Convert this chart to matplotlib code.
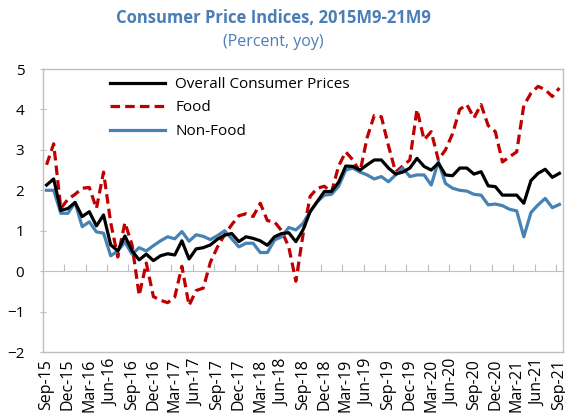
import matplotlib
matplotlib.use("Agg")
import matplotlib.pyplot as plt
import numpy as np

plt.rcParams['font.family'] = ['Open Sans', 'DejaVu Sans']

# Monthly data, Sep-2015 .. Sep-2021 (73 months), percent yoy
overall = [2.13, 2.28, 1.5, 1.55, 1.7, 1.35, 1.47, 1.12, 1.39, 0.65,
           0.5, 0.87, 0.5, 0.28, 0.42, 0.26, 0.38, 0.43, 0.4, 0.75,
           0.3, 0.55, 0.58, 0.65, 0.79, 0.89, 0.93, 0.73, 0.85, 0.81,
           0.75, 0.64, 0.85, 0.93, 0.95, 0.73, 1.02, 1.47, 1.72, 1.97,
           1.97, 2.2, 2.6, 2.59, 2.5, 2.63, 2.75, 2.75, 2.55, 2.4,
           2.45, 2.55, 2.79, 2.59, 2.5, 2.67, 2.38, 2.36, 2.55, 2.55,
           2.4, 2.46, 2.11, 2.09, 1.88, 1.88, 1.88, 1.68, 2.24, 2.42,
           2.52, 2.32, 2.42]
food = [2.63, 3.15, 1.55, 1.78, 1.9, 2.05, 2.07, 1.55, 2.45, 1.2,
        0.35, 1.2, 0.65, -0.6, 0.2, -0.63, -0.72, -0.78, -0.64, 0.12,
        -0.85, -0.48, -0.42, 0.22, 0.6, 0.9, 1.15, 1.37, 1.42, 1.35,
        1.68, 1.25, 1.22, 1.0, 0.6, -0.25, 0.9, 1.85, 2.05, 2.1,
        1.95, 2.6, 2.95, 2.75, 2.45, 3.3, 3.85, 3.82, 3.1, 2.45,
        2.6, 2.75, 4.0, 3.25, 3.45, 2.75, 3.0, 3.4, 4.0, 4.12,
        3.79, 4.12, 3.6, 3.45, 2.7, 2.83, 2.95, 4.1, 4.4, 4.57,
        4.49, 4.32, 4.53]
nonfood = [2.0, 2.0, 1.43, 1.43, 1.7, 1.1, 1.22, 0.97, 0.94, 0.38,
           0.5, 0.72, 0.42, 0.58, 0.5, 0.63, 0.75, 0.85, 0.8, 0.98,
           0.74, 0.9, 0.86, 0.78, 0.88, 1.0, 0.8, 0.6, 0.69, 0.69,
           0.46, 0.46, 0.77, 0.85, 1.08, 1.02, 1.18, 1.47, 1.72, 1.88,
           1.9, 2.1, 2.5, 2.55, 2.45, 2.38, 2.28, 2.34, 2.21, 2.38,
           2.55, 2.34, 2.38, 2.38, 2.13, 2.71, 2.17, 2.05, 2.0, 1.98,
           1.9, 1.88, 1.64, 1.66, 1.62, 1.53, 1.49, 0.85, 1.45, 1.64,
           1.8, 1.57, 1.65]

tick_labels = ["Sep-15", "Dec-15", "Mar-16", "Jun-16", "Sep-16", "Dec-16",
               "Mar-17", "Jun-17", "Sep-17", "Dec-17", "Mar-18", "Jun-18",
               "Sep-18", "Dec-18", "Mar-19", "Jun-19", "Sep-19", "Dec-19",
               "Mar-20", "Jun-20", "Sep-20", "Dec-20", "Mar-21", "Jun-21",
               "Sep-21"]
series_names = ["Overall Consumer Prices", "Food", "Non-Food"]

title_color = '#4a7eb5'
grey = '#bfbfbf'

fig = plt.figure(figsize=(5.65, 4.2), dpi=100)
ax = fig.add_axes([43/565, 1-352/420, 520/565, 283/420])

x = np.arange(len(overall))
ax.plot(x, overall, color='black', lw=2.3, label=series_names[0], zorder=4)
ax.plot(x, food, color='#c00000', lw=2.3, ls=(0, (3.0, 1.6)), label=series_names[1], zorder=3)
ax.plot(x, nonfood, color='#4682b4', lw=2.3, label=series_names[2], zorder=3)

ax.set_xlim(-0.5, len(overall) - 0.5)
ax.set_ylim(-2, 5)
ax.set_yticks(np.arange(-2, 6, 1))

step = 3
ax.set_xticks(x[::step])
ax.set_xticklabels(tick_labels, rotation=90)
ax.tick_params(axis='x', length=0, pad=5, labelsize=11.5, colors='black')
ax.tick_params(axis='y', direction='inout', length=5, width=0.8, color=grey, pad=11, labelsize=11)

for s in ax.spines.values():
    s.set_color(grey)
    s.set_linewidth(1.0)

# zero axis line with tick marks
sec = ax.secondary_xaxis(2/7)
sec.spines['bottom'].set_color(grey)
sec.spines['top'].set_color(grey)
sec.set_xticks(x[step::step] - 0.5)
sec.tick_params(direction='in', length=5, width=0.8, color=grey,
                labelbottom=False, labeltop=False, bottom=True, top=False)

leg = ax.legend(loc='upper left', bbox_to_anchor=(0.102, 1.02), frameon=False,
                fontsize=11, handlelength=3.6, handletextpad=0.7, labelspacing=0.55)

fig.text(273/565, 1-18/420, "Consumer Price Indices, 2015M9-21M9", ha='center', va='center',
         fontsize=12, fontweight='bold', color=title_color)
fig.text(273/565, 1-42/420, "(Percent, yoy)", ha='center', va='center',
         fontsize=11.5, color=title_color)

fig.savefig("out.png", dpi=100)
